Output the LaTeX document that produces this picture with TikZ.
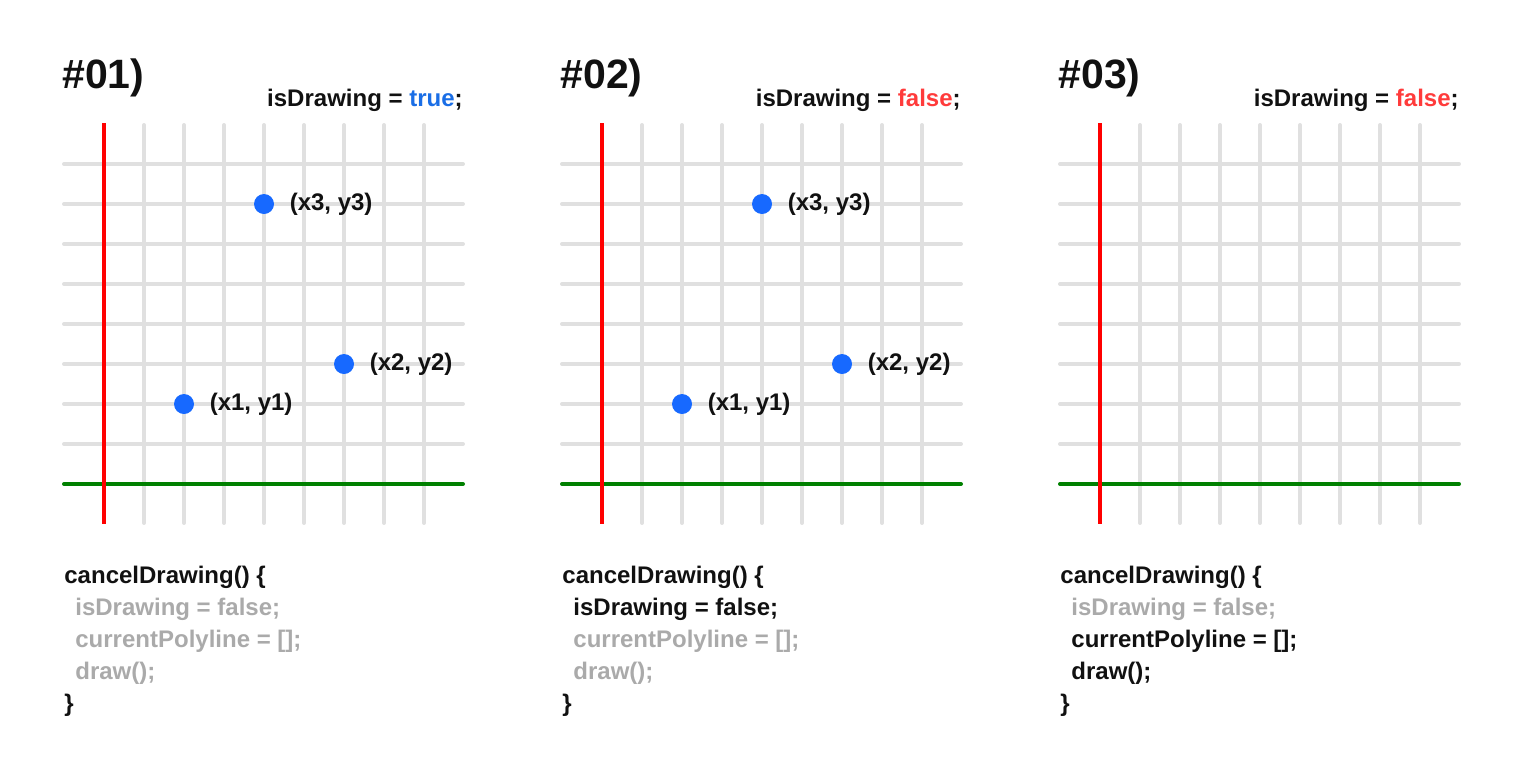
\documentclass[tikz,border=0pt]{standalone}
\usepackage{fontspec}
\setmainfont{Liberation Sans}
\usetikzlibrary{positioning}

\begin{document}
\begin{tikzpicture}[x=0.5pt, y=-0.5pt]

	\def\gap{40}
	\def\xo{104}
	\def\yo{484}
	\def\dotsize{10pt}

	% Colours
	\colorlet{gridcolor}{black!12}
	\colorlet{xcolor}{green!50!black}
	\definecolor{ycolor}{HTML}{FF0000}
	\definecolor{dotcolor}{HTML}{1769FF}
	\definecolor{truecolor}{HTML}{1A6EE6}
	\definecolor{falsecolor}{HTML}{FF3B3B}
	\definecolor{offcolor}{HTML}{AAAAAA}
	\definecolor{textcolor}{HTML}{111111}

	% Styles
	\tikzstyle{gridline}=[line width=2pt, gridcolor, line cap=round]
	\tikzstyle{xaxis}=[line width=2pt, xcolor, line cap=round]
	\tikzstyle{yaxis}=[line width=2pt, ycolor]
	\tikzstyle{point}=[circle, fill=dotcolor, inner sep=0pt, minimum size=\dotsize]
	\tikzstyle{ptlabel}=[inner sep=0pt, text=textcolor, font=\fontsize{12pt}{14pt}\selectfont\bfseries]
	\tikzstyle{title}=[inner sep=0pt, text=textcolor, font=\fontsize{20.5pt}{24pt}\selectfont\bfseries]
	\tikzstyle{state}=[ptlabel, anchor=base east]
	\tikzstyle{code}=[inner sep=0pt, anchor=north west, align=left, text=textcolor, font=\fontsize{12pt}{16pt}\selectfont\bfseries]

	\useasboundingbox (0,0) rectangle (1524,766);

	% Grids and axes
	\foreach \ox in {0,498,996} {
		\foreach \i in {1,...,8}
			\draw[gridline] (\ox+\xo+\i*\gap, 125) -- (\ox+\xo+\i*\gap, 523);
		\foreach \j in {0,...,7}
			\draw[gridline] (\ox+64, 164+\j*\gap) -- (\ox+463, 164+\j*\gap);
		\draw[xaxis] (\ox+64, \yo) -- (\ox+463, \yo);
		\draw[yaxis] (\ox+\xo, 123) -- (\ox+\xo, 524);
	}

	% Titles
	\node[title, anchor=base west] (t1) at (62, 88) {\#01)};
	\node[title, anchor=base west] (t2) at (560, 88) {\#02)};
	\node[title, anchor=base west] (t3) at (1058, 88) {\#03)};
	\node[state] (s1) at (463, 106) {isDrawing = \textcolor{truecolor}{true};};
	\node[state] (s2) at (961, 106) {isDrawing = \textcolor{falsecolor}{false};};
	\node[state] (s3) at (1459, 106) {isDrawing = \textcolor{falsecolor}{false};};

	% Points
	\node[point] (p1) at (184, 404) {};
	\node[point] (p2) at (344, 364) {};
	\node[point] (p3) at (264, 204) {};
	\node[ptlabel, right=7.5pt of p1] (l1) {(x1, y1)};
	\node[ptlabel, right=7.5pt of p2] (l2) {(x2, y2)};
	\node[ptlabel, right=7.5pt of p3] (l3) {(x3, y3)};

	\node[point] (q1) at (682, 404) {};
	\node[point] (q2) at (842, 364) {};
	\node[point] (q3) at (762, 204) {};
	\node[ptlabel, right=7.5pt of q1] (m1) {(x1, y1)};
	\node[ptlabel, right=7.5pt of q2] (m2) {(x2, y2)};
	\node[ptlabel, right=7.5pt of q3] (m3) {(x3, y3)};

	% Code
	\node[code] (c1) at (64, 566) {cancelDrawing() \{\\
		\hspace*{5.5pt}\textcolor{offcolor}{isDrawing = false;}\\
		\hspace*{5.5pt}\textcolor{offcolor}{currentPolyline = [];}\\
		\hspace*{5.5pt}\textcolor{offcolor}{draw();}\\
		\}};
	\node[code] (c2) at (562, 566) {cancelDrawing() \{\\
		\hspace*{5.5pt}isDrawing = false;\\
		\hspace*{5.5pt}\textcolor{offcolor}{currentPolyline = [];}\\
		\hspace*{5.5pt}\textcolor{offcolor}{draw();}\\
		\}};
	\node[code] (c3) at (1060, 566) {cancelDrawing() \{\\
		\hspace*{5.5pt}\textcolor{offcolor}{isDrawing = false;}\\
		\hspace*{5.5pt}currentPolyline = [];\\
		\hspace*{5.5pt}draw();\\
		\}};

\end{tikzpicture}
\end{document}
